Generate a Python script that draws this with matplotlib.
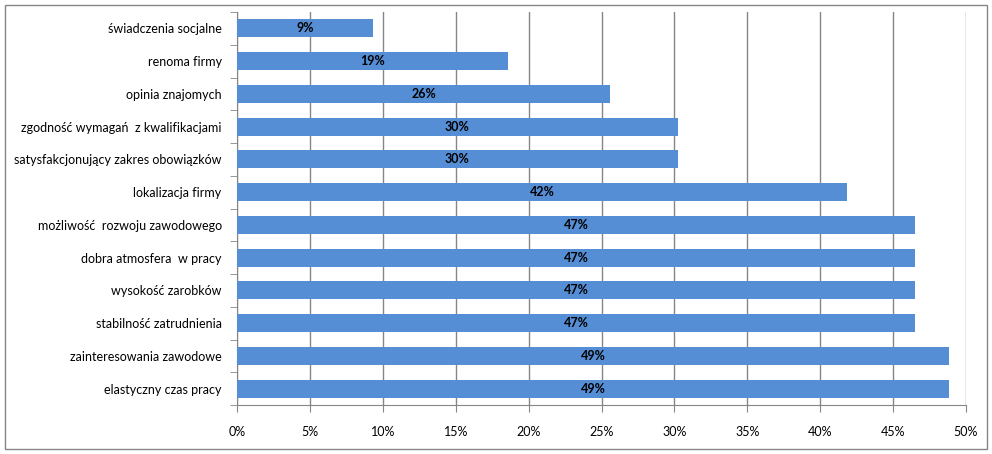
import matplotlib
matplotlib.use("Agg")
import matplotlib.pyplot as plt
from matplotlib.patches import Rectangle
import numpy as np

plt.rcParams['font.family'] = ['Lato', 'DejaVu Sans']

categories = [
    "świadczenia socjalne",
    "renoma firmy",
    "opinia znajomych",
    "zgodność wymagań  z kwalifikacjami",
    "satysfakcjonujący zakres obowiązków",
    "lokalizacja firmy",
    "możliwość  rozwoju zawodowego",
    "dobra atmosfera  w pracy",
    "wysokość zarobków",
    "stabilność zatrudnienia",
    "zainteresowania zawodowe",
    "elastyczny czas pracy",
]
values = [9.30, 18.60, 25.58, 30.23, 30.23, 41.86, 46.51, 46.51, 46.51, 46.51, 48.84, 48.84]
x_ticks = [0, 5, 10, 15, 20, 25, 30, 35, 40, 45, 50]

fig = plt.figure(figsize=(9.92, 4.54), dpi=100)
ax = fig.add_axes([237 / 992, 1 - 405 / 454, (966 - 237) / 992, (405 - 12) / 454])

y = np.arange(len(categories))
ax.barh(y, values, height=0.55, color='#558ED5', zorder=3)
for yi, v in zip(y, values):
    ax.text(v / 2, yi, f"{v:.0f}%", ha='center', va='center',
            fontsize=9, fontweight='bold', color='black', zorder=4)

ax.set_ylim(len(categories) - 0.5, -0.5)
ax.set_xlim(0, 50)
ax.set_xticks(x_ticks)
ax.set_xticklabels([f"{t}%" for t in x_ticks], fontsize=9)
ax.set_yticks(y)
ax.set_yticklabels(categories, fontsize=9)
ax.tick_params(axis='y', length=0, pad=11)
ax.set_yticks(np.arange(-0.5, len(categories)), minor=True)
ax.tick_params(axis='y', which='minor', length=5, color='#868686')
ax.tick_params(axis='x', length=5, color='#868686', pad=10)
ax.grid(axis='x', color='#868686', linewidth=1, zorder=0)
for s in ['top', 'right']:
    ax.spines[s].set_visible(False)
for s in ['left', 'bottom']:
    ax.spines[s].set_color('#868686')

fig.patches.append(Rectangle((5 / 992, 5 / 454), 982 / 992, 444 / 454,
                             transform=fig.transFigure, fill=False,
                             edgecolor='#868686', linewidth=1))

fig.savefig("out.png", dpi=100)
